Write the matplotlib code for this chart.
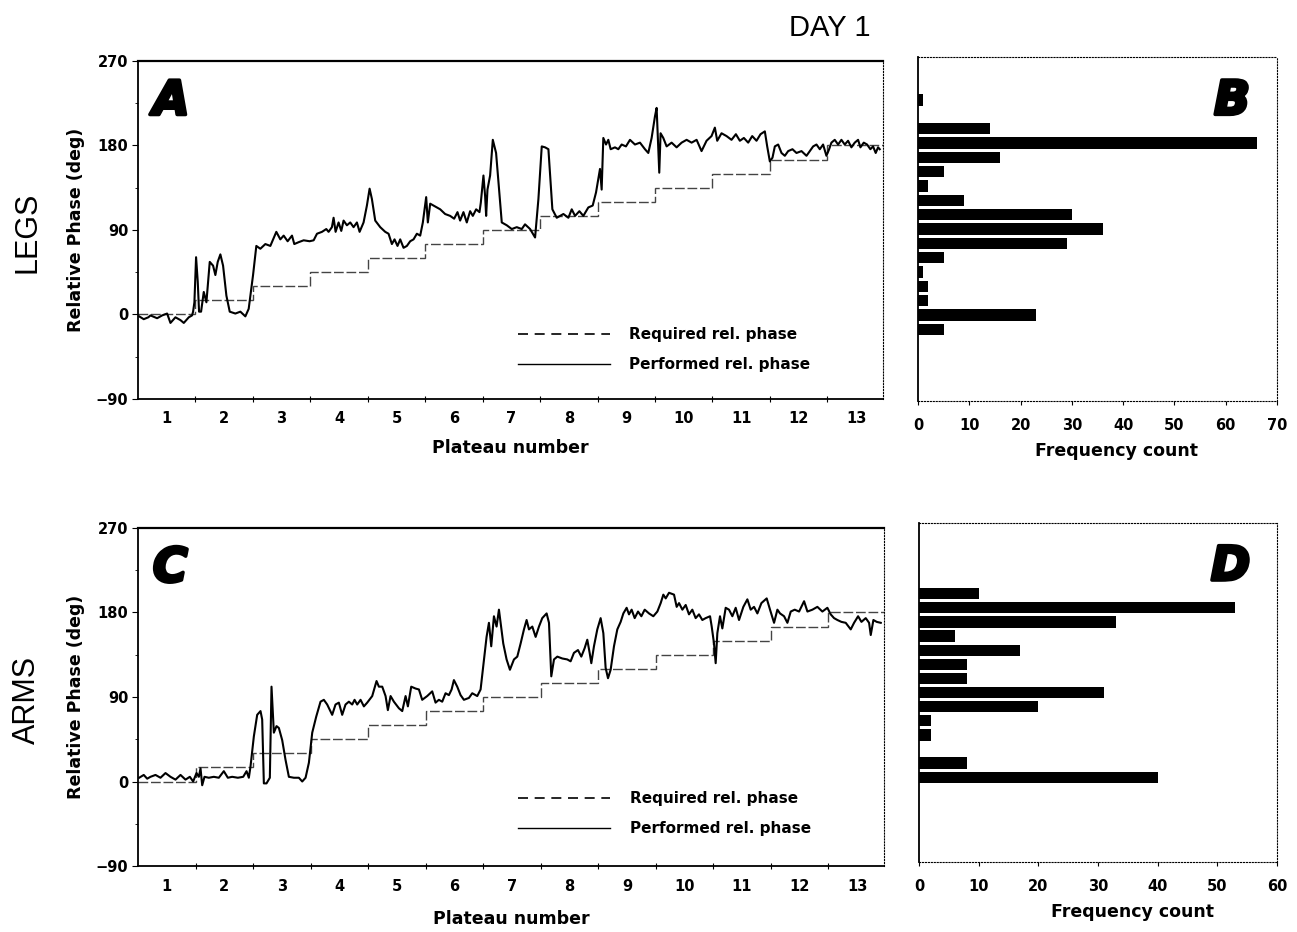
import numpy as np
import matplotlib.pyplot as plt
import matplotlib.patheffects as pe
from matplotlib.lines import Line2D

plt.rcParams['font.family'] = ['DejaVu Sans']

# plateau layout (x in plateau units)
plateau_labels = [1, 2, 3, 4, 5, 6, 7, 8, 9, 10, 11, 12, 13]
plateau_edges = [0.5, 1.5, 2.5, 3.5, 4.5, 5.5, 6.5, 7.5, 8.5, 9.5, 10.5, 11.5, 12.5, 13.5]
required_phase = [0, 15, 30, 45, 60, 75, 90, 105, 120, 135, 150, 165, 180]

# performed relative phase, legs (panel A): (plateau position, deg)
legs_trace = [
    (0.52, -2), (0.60, -5), (0.68, -3), (0.717, -1), (0.833, -4), (0.92, -1), (1.007, 1),
    (1.065, -9), (1.152, -3), (1.239, -6), (1.297, -9), (1.384, -3), (1.441, -1),
    (1.459, 3), (1.482, 13), (1.511, 61), (1.54, 35), (1.563, 3), (1.598, 3), (1.645, 24),
    (1.691, 13), (1.749, 56), (1.807, 52), (1.847, 42), (1.888, 56), (1.934, 64),
    (1.981, 52), (2.039, 20), (2.097, 3), (2.195, 1), (2.282, 3), (2.369, -2), (2.427, 6),
    (2.503, 42), (2.56, 73), (2.63, 70), (2.717, 75), (2.804, 73), (2.908, 88), (2.978, 80),
    (3.036, 84), (3.105, 78), (3.181, 84), (3.221, 75), (3.297, 77), (3.384, 79),
    (3.488, 78), (3.558, 79), (3.616, 86), (3.703, 88), (3.778, 91), (3.818, 88),
    (3.876, 93), (3.905, 103), (3.94, 88), (3.992, 98), (4.039, 89), (4.079, 100),
    (4.137, 95), (4.195, 98), (4.253, 93), (4.311, 98), (4.358, 88), (4.427, 98),
    (4.485, 116), (4.532, 134), (4.572, 123), (4.63, 100), (4.717, 93), (4.804, 88),
    (4.862, 86), (4.92, 75), (4.966, 80), (5.018, 73), (5.065, 80), (5.123, 71),
    (5.181, 73), (5.239, 78), (5.297, 80), (5.355, 86), (5.413, 84), (5.459, 98),
    (5.517, 125), (5.546, 98), (5.587, 118), (5.645, 116), (5.761, 112), (5.847, 107),
    (5.934, 105), (6.004, 102), (6.062, 109), (6.108, 100), (6.166, 109), (6.224, 98),
    (6.282, 110), (6.329, 105), (6.387, 112), (6.445, 109), (6.468, 119), (6.514, 148),
    (6.543, 126), (6.561, 105), (6.584, 133), (6.63, 148), (6.677, 186), (6.734, 172),
    (6.775, 141), (6.833, 98), (6.92, 95), (7.007, 91), (7.094, 93), (7.181, 91),
    (7.238, 96), (7.326, 91), (7.413, 82), (7.471, 123), (7.529, 179), (7.587, 178),
    (7.645, 176), (7.714, 112), (7.79, 103), (7.906, 107), (7.993, 103), (8.051, 112),
    (8.109, 105), (8.184, 110), (8.253, 105), (8.34, 114), (8.416, 116), (8.474, 130),
    (8.543, 155), (8.572, 133), (8.601, 188), (8.648, 181), (8.688, 186), (8.729, 176),
    (8.804, 178), (8.862, 176), (8.92, 181), (8.995, 179), (9.065, 186), (9.152, 181),
    (9.239, 183), (9.326, 176), (9.384, 172), (9.442, 188), (9.5, 211), (9.529, 220),
    (9.558, 176), (9.575, 151), (9.598, 193), (9.645, 188), (9.703, 179), (9.79, 183),
    (9.877, 178), (9.964, 183), (10.051, 186), (10.138, 183), (10.225, 186), (10.311, 174),
    (10.398, 185), (10.485, 190), (10.543, 199), (10.584, 185), (10.659, 193), (10.746, 190),
    (10.833, 186), (10.909, 192), (10.978, 185), (11.048, 188), (11.123, 183), (11.193, 190),
    (11.268, 185), (11.338, 192), (11.413, 195), (11.454, 179), (11.5, 163), (11.546, 167),
    (11.587, 179), (11.645, 181), (11.703, 172), (11.761, 169), (11.819, 174), (11.894, 176),
    (11.964, 172), (12.051, 174), (12.138, 169), (12.196, 174), (12.254, 179), (12.312, 181),
    (12.37, 176), (12.427, 181), (12.485, 169), (12.532, 176), (12.572, 183), (12.63, 186),
    (12.688, 181), (12.746, 186), (12.804, 181), (12.862, 185), (12.92, 178), (12.978, 183),
    (13.036, 186), (13.077, 178), (13.135, 183), (13.193, 181), (13.25, 176), (13.297, 179),
    (13.343, 172), (13.384, 178), (13.413, 176),
]

# performed relative phase, arms (panel C)
arms_trace = [
    (0.52, 4), (0.60, 7), (0.66, 3), (0.717, 5), (0.804, 7), (0.891, 4), (0.978, 9),
    (1.065, 5), (1.152, 2), (1.239, 7), (1.326, 2), (1.401, 5), (1.459, 0), (1.517, 9),
    (1.558, 5), (1.587, 14), (1.616, -4), (1.656, 5), (1.731, 4), (1.818, 5), (1.905, 4),
    (1.992, 11), (2.062, 4), (2.137, 5), (2.236, 4), (2.329, 5), (2.387, 11), (2.427, 4),
    (2.456, 16), (2.514, 48), (2.572, 71), (2.63, 75), (2.659, 66), (2.688, -2), (2.734, -2),
    (2.792, 4), (2.821, 101), (2.862, 52), (2.908, 59), (2.949, 57), (3.007, 44), (3.065, 23),
    (3.123, 5), (3.21, 4), (3.297, 4), (3.355, 0), (3.413, 4), (3.471, 20), (3.529, 52),
    (3.598, 69), (3.673, 85), (3.731, 87), (3.789, 82), (3.876, 71), (3.934, 82), (3.992, 84),
    (4.05, 71), (4.108, 82), (4.166, 85), (4.224, 82), (4.265, 87), (4.311, 82), (4.369, 87),
    (4.427, 80), (4.485, 84), (4.572, 91), (4.647, 107), (4.688, 101), (4.746, 101),
    (4.804, 91), (4.844, 76), (4.891, 91), (4.949, 85), (5.036, 78), (5.094, 75), (5.152, 91),
    (5.192, 80), (5.25, 101), (5.326, 99), (5.384, 98), (5.441, 87), (5.528, 91), (5.615, 96),
    (5.673, 84), (5.731, 87), (5.789, 85), (5.847, 94), (5.905, 92), (5.952, 98), (5.992, 108),
    (6.05, 101), (6.108, 92), (6.166, 87), (6.253, 89), (6.311, 94), (6.398, 91), (6.456, 98),
    (6.502, 123), (6.56, 154), (6.601, 169), (6.641, 144), (6.688, 176), (6.734, 165),
    (6.775, 183), (6.804, 169), (6.85, 147), (6.908, 130), (6.966, 119), (7.036, 130),
    (7.094, 133), (7.152, 147), (7.21, 162), (7.256, 172), (7.297, 162), (7.355, 165),
    (7.413, 154), (7.471, 165), (7.528, 174), (7.604, 179), (7.645, 169), (7.685, 112),
    (7.732, 130), (7.79, 133), (7.877, 131), (7.963, 130), (8.021, 128), (8.079, 137),
    (8.149, 140), (8.207, 133), (8.265, 142), (8.311, 151), (8.352, 137), (8.381, 126),
    (8.427, 144), (8.485, 162), (8.543, 174), (8.59, 158), (8.63, 121), (8.671, 110),
    (8.717, 119), (8.775, 144), (8.833, 162), (8.891, 170), (8.938, 179), (8.995, 185),
    (9.036, 178), (9.082, 183), (9.135, 174), (9.193, 181), (9.251, 176), (9.309, 183),
    (9.384, 179), (9.459, 176), (9.529, 181), (9.587, 190), (9.633, 199), (9.674, 195),
    (9.732, 201), (9.819, 199), (9.865, 186), (9.906, 190), (9.964, 183), (10.022, 188),
    (10.079, 178), (10.137, 183), (10.195, 174), (10.253, 178), (10.311, 172), (10.369, 174),
    (10.445, 176), (10.474, 165), (10.514, 147), (10.543, 126), (10.572, 158), (10.618, 176),
    (10.659, 163), (10.717, 185), (10.775, 183), (10.833, 176), (10.891, 185), (10.949, 172),
    (11.024, 186), (11.094, 194), (11.152, 183), (11.21, 186), (11.268, 179), (11.338, 190),
    (11.43, 195), (11.488, 183), (11.558, 169), (11.616, 183), (11.662, 179), (11.732, 176),
    (11.79, 169), (11.848, 181), (11.917, 183), (11.993, 181), (12.08, 192), (12.138, 181),
    (12.225, 183), (12.311, 186), (12.398, 181), (12.485, 185), (12.543, 178), (12.601, 174),
    (12.659, 172), (12.729, 170), (12.804, 169), (12.891, 162), (12.949, 169), (13.019, 176),
    (13.077, 170), (13.152, 174), (13.21, 169), (13.239, 156), (13.285, 172), (13.343, 170),
    (13.413, 169),
]

# frequency histograms of performed phase (15 deg bins)
legs_bins = [225, 210, 195, 180, 165, 150, 135, 120, 105, 90, 75, 60, 45, 30, 15, 0, -15]
legs_counts = [1, 0, 14, 66, 16, 5, 2, 9, 30, 36, 29, 5, 1, 2, 2, 23, 5]
arms_bins = [195, 180, 165, 150, 135, 120, 105, 90, 75, 60, 45, 30, 15, 0]
arms_counts = [10, 53, 33, 6, 17, 8, 8, 31, 20, 2, 2, 0, 8, 40]

phase_ticks = [-90, 0, 90, 180, 270]
phase_ticklabels = ['\u221290', '0', '90', '180', '270']

tick_font = dict(family='DejaVu Sans', weight='bold', size=10.5)
label_font = dict(family='DejaVu Sans', weight='bold', size=12.5)
letter_font = dict(family='DejaVu Sans', weight='bold', style='italic', size=34)
letter_stroke = [pe.withStroke(linewidth=2.5, foreground='black')]

fig = plt.figure(figsize=(12.97, 9.32), dpi=100)
axA = fig.add_axes([0.1064, 0.5719, 0.5744, 0.3627])
axB = fig.add_axes([0.7078, 0.5697, 0.2768, 0.3691])
axC = fig.add_axes([0.1064, 0.0708, 0.5752, 0.3627])
axD = fig.add_axes([0.7086, 0.0751, 0.2760, 0.3637])


def phase_panel(ax, trace, letter, legend_top, xlabelpad):
    tr = np.array(trace)
    ax.stairs(required_phase, plateau_edges, color='#444444', lw=1.0,
              linestyle=(0, (7, 2)), baseline=None)
    ax.plot(tr[:, 0], tr[:, 1], color='black', lw=1.5)
    ax.set_xlim(0.5, 13.47)
    ax.set_ylim(-90, 270)
    ax.set_xticks(np.array(plateau_edges[1:-1]))
    ax.set_xticklabels([])
    ax.set_xticks(plateau_labels, minor=True)
    ax.set_xticklabels([str(p) for p in plateau_labels], minor=True, fontdict=tick_font)
    ax.tick_params(axis='x', which='major', length=4, width=0.8, direction='inout')
    ax.tick_params(axis='x', which='minor', length=0, pad=9)
    ax.set_yticks(phase_ticks)
    ax.set_yticklabels(phase_ticklabels, fontdict=tick_font)
    ax.set_yticks([-45, 45, 135, 225], minor=True)
    ax.tick_params(axis='y', which='major', length=4, width=0.8, pad=3)
    ax.tick_params(axis='y', which='minor', length=2, width=0.6)
    ax.set_xlabel('Plateau number', fontdict=label_font, labelpad=xlabelpad)
    ax.set_ylabel('Relative Phase (deg)', fontdict=label_font, labelpad=8)
    ax.spines['left'].set_linewidth(1.3)
    ax.spines['bottom'].set_linewidth(1.3)
    ax.spines['top'].set_linewidth(1.6)
    ax.spines['right'].set_linewidth(0.8)
    ax.spines['right'].set_linestyle(':')
    ax.text(0.02, 0.945, letter, transform=ax.transAxes, ha='left', va='top',
            path_effects=letter_stroke, **letter_font)
    handles = [Line2D([], [], color='black', lw=1.2, linestyle=(0, (6, 4))),
               Line2D([], [], color='black', lw=1.0)]
    ax.legend(handles, ['Required rel. phase', 'Performed rel. phase'],
              loc='upper left', bbox_to_anchor=(0.51, legend_top), frameon=False,
              prop=dict(family='DejaVu Sans', weight='bold', size=11),
              handlelength=6.0, handletextpad=1.3, labelspacing=1.0,
              borderpad=0, borderaxespad=0)


def hist_panel(ax, bins, counts, xmax, letter, label_x):
    ax.barh(bins, counts, height=12, color='black')
    ax.set_ylim(-90, 270)
    ax.set_xlim(0, xmax)
    ax.set_yticks([])
    ax.set_xticks(np.arange(0, xmax + 1, 10))
    ax.set_xticklabels([str(v) for v in range(0, xmax + 1, 10)], fontdict=tick_font)
    ax.tick_params(axis='x', length=3, width=0.8, pad=9)
    ax.set_xlabel('Frequency count', fontdict=label_font)
    ax.xaxis.set_label_coords(label_x, -0.12)
    ax.spines['left'].set_linewidth(1.3)
    for side in ['top', 'right', 'bottom']:
        ax.spines[side].set_linewidth(0.8)
        ax.spines[side].set_linestyle(':')
    ax.text(0.925, 0.935, letter, transform=ax.transAxes, ha='right', va='top',
            path_effects=letter_stroke, **letter_font)


phase_panel(axA, legs_trace, 'A', 0.213, 9)
phase_panel(axC, arms_trace, 'C', 0.222, 12)
hist_panel(axB, legs_bins, legs_counts, 70, 'B', 0.554)
hist_panel(axD, arms_bins, arms_counts, 60, 'D', 0.595)

fig.text(0.64, 0.97, 'DAY 1', ha='center', va='center',
         family=['Liberation Sans', 'DejaVu Sans'], size=21)
fig.text(0.021, 0.751, 'LEGS', ha='center', va='center', rotation=90,
         family=['Liberation Sans', 'DejaVu Sans'], size=22)
fig.text(0.021, 0.249, 'ARMS', ha='center', va='center', rotation=90,
         family=['Liberation Sans', 'DejaVu Sans'], size=22)

fig.savefig('out.png', dpi=100)
